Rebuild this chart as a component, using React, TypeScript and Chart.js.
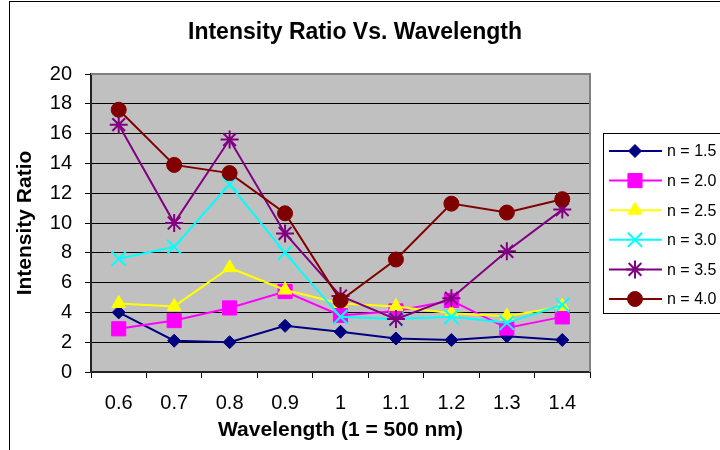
import React, { useEffect, useRef } from "react";
import { Chart, registerables } from "chart.js";
import { drawPoint } from "chart.js/helpers";

Chart.register(...registerables);

const categories = ["0.6", "0.7", "0.8", "0.9", "1", "1.1", "1.2", "1.3", "1.4"];
const seriesLabels = ["n = 1.5", "n = 2.0", "n = 2.5", "n = 3.0", "n = 3.5", "n = 4.0"];
const n15 = [4.0, 2.1, 2.0, 3.1, 2.7, 2.25, 2.15, 2.4, 2.15];
const n20 = [2.9, 3.45, 4.3, 5.4, 3.8, 4.1, 4.8, 2.95, 3.7];
const n25 = [4.6, 4.4, 7.0, 5.5, 4.6, 4.4, 3.95, 3.75, 4.4];
const n30 = [7.6, 8.4, 12.6, 8.0, 3.7, 3.55, 3.7, 3.3, 4.5];
const n35 = [16.6, 10.0, 15.6, 9.3, 5.1, 3.55, 4.95, 8.1, 10.9];
const n40 = [17.6, 13.9, 13.35, 10.65, 4.8, 7.55, 11.3, 10.7, 11.6];
const yTicks = [0, 2, 4, 6, 8, 10, 12, 14, 16, 18, 20];

const chartTitle = "Intensity Ratio Vs. Wavelength";
const xTitle = "Wavelength (1 = 500 nm)";
const yTitle = "Intensity Ratio";

const styles = [
  { color: "#000080", pointStyle: "rectRot", radius: 6.5, bw: 1 },
  { color: "#FF00FF", pointStyle: "rect", radius: 10, bw: 1 },
  { color: "#FFFF00", pointStyle: "triangle", radius: 8, bw: 1 },
  { color: "#00FFFF", pointStyle: "crossRot", radius: 10, bw: 2 },
  { color: "#800080", pointStyle: "star", radius: 9, bw: 2 },
  { color: "#800000", pointStyle: "circle", radius: 7.5, bw: 1 },
];

const FONT = "'Liberation Sans', Arial, sans-serif";

const decorPlugin = {
  id: "decor",
  beforeDraw(chart: any) {
    const { ctx, chartArea: a } = chart;
    ctx.save();
    ctx.fillStyle = "#ffffff";
    ctx.fillRect(0, 0, chart.width, chart.height);
    ctx.fillStyle = "#C0C0C0";
    ctx.fillRect(a.left, a.top, a.right - a.left, a.bottom - a.top);
    ctx.restore();
  },
  beforeDatasetsDraw(chart: any) {
    const { ctx, chartArea: a } = chart;
    ctx.save();
    ctx.strokeStyle = "#808080";
    ctx.lineWidth = 2;
    ctx.beginPath();
    ctx.moveTo(a.left, a.top);
    ctx.lineTo(a.right, a.top);
    ctx.lineTo(a.right, a.bottom);
    ctx.stroke();
    ctx.restore();
  },
  afterDraw(chart: any) {
    const { ctx } = chart;
    ctx.save();
    ctx.strokeStyle = "#000";
    ctx.lineWidth = 1;
    ctx.strokeRect(9.5, 1.5, 800, 800);
    ctx.fillStyle = "#000";
    ctx.font = `bold 23px ${FONT}`;
    ctx.textAlign = "center";
    ctx.textBaseline = "middle";
    ctx.fillText(chartTitle, 355, 33);
    const lx = 603.5, ly = 133.5;
    ctx.fillStyle = "#fff";
    ctx.fillRect(lx, ly, 200, 180);
    ctx.strokeStyle = "#000";
    ctx.lineWidth = 1;
    ctx.strokeRect(lx, ly, 200, 180);
    chart.data.datasets.forEach((ds: any, i: number) => {
      const y = 151 + i * 29.6;
      ctx.strokeStyle = ds.borderColor;
      ctx.lineWidth = 2;
      ctx.beginPath();
      ctx.moveTo(609, y);
      ctx.lineTo(662, y);
      ctx.stroke();
      ctx.fillStyle = ds.pointBackgroundColor;
      ctx.strokeStyle = ds.pointBorderColor;
      ctx.lineWidth = ds.pointBorderWidth;
      drawPoint(ctx, {
        pointStyle: ds.pointStyle,
        rotation: 0,
        radius: ds.pointRadius,
        borderWidth: ds.pointBorderWidth,
      } as any, 635, y);
      ctx.fillStyle = "#000";
      ctx.font = `16px ${FONT}`;
      ctx.textAlign = "left";
      ctx.textBaseline = "middle";
      ctx.fillText(ds.label, 667, y + 1);
    });
    ctx.restore();
  },
};

export default function App() {
  const ref = useRef<HTMLCanvasElement>(null);
  useEffect(() => {
    document.body.style.margin = "0";
    const seriesData = [n15, n20, n25, n30, n35, n40];
    const chart = new Chart(ref.current as HTMLCanvasElement, {
      type: "line",
      data: {
        labels: categories,
        datasets: seriesData.map((d, i) => ({
          label: seriesLabels[i],
          data: d,
          borderColor: styles[i].color,
          backgroundColor: styles[i].color,
          pointBackgroundColor: styles[i].color,
          pointBorderColor: styles[i].color,
          pointStyle: styles[i].pointStyle,
          pointRadius: styles[i].radius,
          pointBorderWidth: styles[i].bw,
          borderWidth: 2,
          tension: 0,
          fill: false,
          order: 10 - i,
        })),
      },
      options: {
        responsive: false,
        animation: false,
        devicePixelRatio: 1,
        layout: { padding: { left: 9, right: 130, top: 74, bottom: 0 } },
        plugins: {
          legend: { display: false },
          title: { display: false },
          tooltip: { enabled: false },
        },
        scales: {
          x: {
            type: "category",
            offset: true,
            grid: {
              offset: true,
              drawOnChartArea: false,
              drawTicks: true,
              tickLength: 6,
              tickColor: "#000",
              color: "#000",
            },
            border: { color: "#222", width: 2 },
            ticks: {
              color: "#000",
              font: { family: FONT, size: 20 },
              padding: 13,
              maxRotation: 0,
              autoSkip: false,
            },
            title: {
              display: true,
              text: xTitle,
              color: "#000",
              font: { family: FONT, size: 21, weight: "bold" },
              padding: { top: 0, bottom: 7 },
            },
            afterFit(scale: any) {
              scale.height = 78;
            },
          },
          y: {
            type: "linear",
            min: 0,
            max: 20,
            afterBuildTicks(scale: any) {
              scale.ticks = yTicks.map((v) => ({ value: v }));
            },
            grid: {
              color: (c: any) => (c.tick && c.tick.value === 20 ? "rgba(0,0,0,0)" : "#000"),
              lineWidth: 1,
              tickLength: 6,
              tickColor: "#000",
            },
            border: { color: "#222", width: 2 },
            ticks: {
              color: "#000",
              font: { family: FONT, size: 20 },
              padding: 13,
            },
            title: {
              display: true,
              text: yTitle,
              color: "#000",
              font: { family: FONT, size: 21, weight: "bold" },
              padding: { top: 4, bottom: 0 },
            },
            afterFit(scale: any) {
              scale.width = 82;
            },
          },
        },
      },
      plugins: [decorPlugin],
    });
    return () => chart.destroy();
  }, []);
  return (
    <div style={{ width: 720, height: 450 }}>
      <canvas ref={ref} width={720} height={450} style={{ display: "block" }} />
    </div>
  );
}
